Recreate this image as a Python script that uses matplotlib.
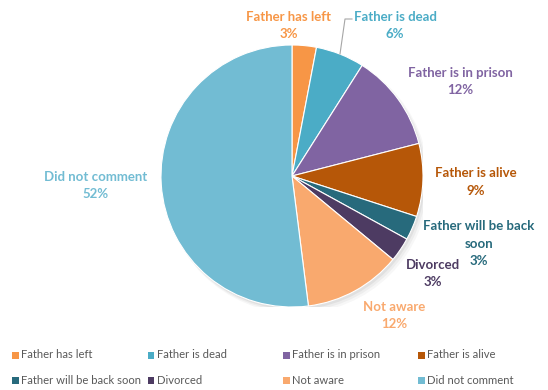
import matplotlib.pyplot as plt
from matplotlib.patches import Rectangle, Circle

# Share of responses per category (percent)
categories = ["Father has left", "Father is dead", "Father is in prison",
              "Father is alive", "Father will be back soon", "Divorced",
              "Not aware", "Did not comment"]
shares = [3, 6, 12, 9, 3, 3, 12, 52]
colors = ["#F79646", "#4BACC6", "#8064A2", "#B65708",
          "#276A7C", "#4D3B62", "#F9A96E", "#72BCD3"]

# label text as drawn next to each slice (line breaks where the label wraps)
slice_labels = ["Father has left", "Father is dead", "Father is in prison",
                "Father is alive", "Father will be back\nsoon", "Divorced",
                "Not aware", "Did not comment"]
# centre of the first label line, pixels from top-left
label_pos = [(289, 17), (395, 17), (460, 73), (476, 173), (479, 226),
             (433, 265), (394, 307), (96, 177)]
line_step = 17.5

W, H = 548, 390
fig = plt.figure(figsize=(W / 100, H / 100), dpi=100)
fig.patch.set_facecolor("white")

cx, cy, r = 292, 176, 131
ax = fig.add_axes([(cx - r) / W, (H - cy - r) / H, 2 * r / W, 2 * r / H])

# soft drop shadow under the pie
for i, a in enumerate([0.05, 0.04, 0.03]):
    ax.add_patch(Circle((0.015 + 0.01 * i, -0.02 - 0.01 * i), 1.0 + 0.005 * i,
                        color="black", alpha=a, lw=0, zorder=0))

wedges, _ = ax.pie(shares, colors=colors, startangle=90, counterclock=False,
                   radius=1.0, wedgeprops=dict(linewidth=0.8, edgecolor="white"))
for w in wedges:
    w.set_zorder(2)
ax.set_xlim(-1, 1)
ax.set_ylim(-1, 1)
ax.set_aspect("equal")
ax.axis("off")

font = "Lato"
lab_size = 9.5

for text, val, col, (x, y) in zip(slice_labels, shares, colors, label_pos):
    lines = text.split("\n") + ["%d%%" % val]
    for k, line in enumerate(lines):
        fig.text(x / W, 1 - (y + k * line_step) / H, line, color=col,
                 fontsize=lab_size, fontweight="bold", family=font,
                 ha="center", va="center")

# leader line for "Father is dead"
fig.add_artist(plt.Line2D([340 / W, 345 / W, 352 / W],
                          [1 - 54 / H, 1 - 19 / H, 1 - 19 / H],
                          color="#A6A6A6", lw=0.8))

# legend drawn on a fixed 4-column grid
leg_x = [12, 148, 283, 418]
leg_y = [355, 380]
for i, (name, col) in enumerate(zip(categories, colors)):
    x = leg_x[i % 4]
    y = leg_y[i // 4]
    fig.add_artist(Rectangle((x / W, 1 - (y + 3.5) / H), 6.5 / W, 6.5 / H,
                             color=col, lw=0))
    fig.text((x + 9) / W, 1 - y / H, name, color="#595959", fontsize=8.1,
             family=font, ha="left", va="center")

fig.savefig("out.png", dpi=100)
